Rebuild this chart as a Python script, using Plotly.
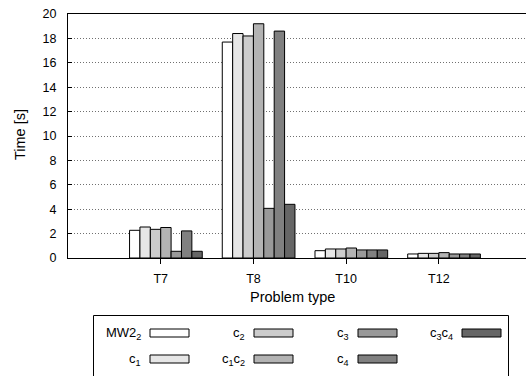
import plotly.graph_objects as go

categories = ["T7", "T8", "T10", "T12"]
series_names = ["MW2<sub>2</sub>", "c<sub>1</sub>", "c<sub>2</sub>", "c<sub>1</sub>c<sub>2</sub>",
                "c<sub>3</sub>", "c<sub>4</sub>", "c<sub>3</sub>c<sub>4</sub>"]
mw2_2 = [2.27, 17.7, 0.60, 0.33]
c1 = [2.54, 18.4, 0.74, 0.38]
c2 = [2.35, 18.2, 0.74, 0.38]
c1c2 = [2.50, 19.2, 0.82, 0.44]
c3 = [0.55, 4.07, 0.66, 0.33]
c4 = [2.22, 18.6, 0.66, 0.33]
c3c4 = [0.55, 4.40, 0.66, 0.33]
y_ticks = [0, 2, 4, 6, 8, 10, 12, 14, 16, 18, 20]

series = [mw2_2, c1, c2, c1c2, c3, c4, c3c4]
colors = ["#ffffff", "#e6e6e6", "#cccccc", "#b3b3b3", "#999999", "#808080", "#666666"]

FONT = "Liberation Sans, Arial, sans-serif"
W, H = 526, 376
ML, MR, MT, MB = 68, 0, 14, 118
bw = 0.112

fig = go.Figure()
xs = list(range(len(categories)))
for j, (name, vals) in enumerate(zip(series_names, series)):
    fig.add_trace(go.Bar(
        x=xs, y=vals, name=name, width=bw, offset=(j - 3) * bw,
        marker=dict(color=colors[j], line=dict(color="#000000", width=1)),
        showlegend=False,
    ))

fig.update_layout(
    width=W, height=H,
    margin=dict(l=ML, r=MR, t=MT, b=MB, pad=0),
    plot_bgcolor="white", paper_bgcolor="white",
    font=dict(family=FONT, size=12.5, color="black"),
    barmode="overlay",
    xaxis=dict(
        range=[-1.0, 3.94], tickmode="array", tickvals=xs, ticktext=categories,
        showgrid=False, zeroline=False, showline=True, linecolor="black", linewidth=1,
        mirror=True, ticks="outside", ticklen=5, tickcolor="black",
        tickfont=dict(size=12.5), ticklabelstandoff=4,
    ),
    yaxis=dict(
        range=[0, 20], tickmode="array", tickvals=y_ticks,
        showgrid=True, gridcolor="#707070", griddash="1px,2px", gridwidth=1,
        zeroline=False, showline=True, linecolor="black", linewidth=1,
        ticks="inside", ticklen=4, tickcolor="black", ticklabelstandoff=8,
        tickfont=dict(size=12.5),
    ),
)

def px_x(p):
    return (p - ML) / (W - ML - MR)

def px_y(p):
    return (H - MB - p) / (H - MT - MB)

# axis titles
fig.add_annotation(x=px_x(20), y=px_y(135), xref="paper", yref="paper", text="Time [s]",
                   showarrow=False, textangle=-90, xanchor="center", yanchor="middle",
                   font=dict(size=14.5))
fig.add_annotation(x=px_x(292), y=px_y(297), xref="paper", yref="paper", text="Problem type",
                   showarrow=False, xanchor="center", yanchor="middle", font=dict(size=14.5))

# legend box
fig.add_shape(type="rect", xref="paper", yref="paper", x0=px_x(93.5), x1=px_x(508.5),
              y0=px_y(390), y1=px_y(315.5), line=dict(color="black", width=1), fillcolor="white")

col_x = [150, 254, 358, 462]
row_y = [333, 359]
sw, sh = 39, 8
for j, name in enumerate(series_names):
    col, row = divmod(j, 2)
    x0 = col_x[col]
    yc = row_y[row]
    fig.add_shape(type="rect", xref="paper", yref="paper",
                  x0=px_x(x0), x1=px_x(x0 + sw), y0=px_y(yc + sh / 2), y1=px_y(yc - sh / 2),
                  line=dict(color="black", width=1), fillcolor=colors[j])
    fig.add_annotation(x=px_x(x0 - 7), y=px_y(yc), xref="paper", yref="paper", text=name,
                       showarrow=False, xanchor="right", yanchor="middle", font=dict(size=13))

fig.write_html("out.html", post_script="document.body.style.margin='0';",
               config={"displayModeBar": False})
